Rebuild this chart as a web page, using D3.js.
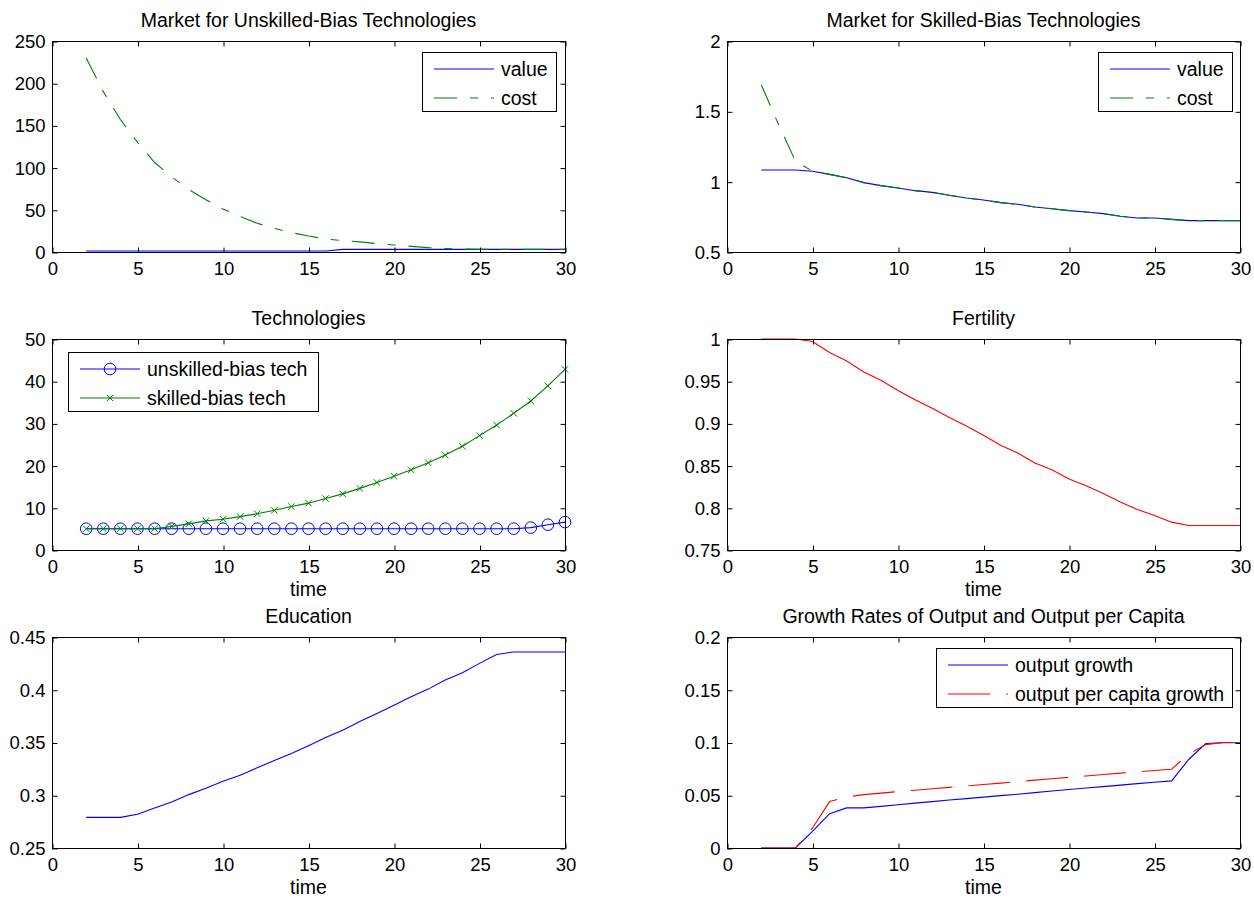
<!DOCTYPE html>
<html>
<head>
<meta charset="utf-8">
<script src="https://cdn.jsdelivr.net/npm/d3@7"></script>
<style>
  html, body { margin: 0; padding: 0; background: #fff; }
  svg { display: block; }
  text { font-family: "Liberation Sans", Arial, Helvetica, sans-serif; fill: #000; }
</style>
</head>
<body>
<svg id="chart" width="1254" height="900"></svg>
<script>
// ---------------- DATA ----------------
const time = [2,3,4,5,6,7,8,9,10,11,12,13,14,15,16,17,18,19,20,21,22,23,24,25,26,27,28,29,30];

const unskilledMarketValue = [1.1,1.1,1.1,1.1,1.1,1.1,1.1,1.1,1.1,1.1,1.1,1.1,1.1,1.1,1.1,3.1,3.1,3.1,3.1,3.1,3.1,3.1,3.1,3.1,3.1,3.1,3.1,3.1,3.1];
const unskilledMarketCost  = [230,190,157,130,106,89,74,62,51,42,34,28,23,19,15.5,13.5,12,10,8.3,6.7,5.2,4.2,3.5,3.2,3.1,3.1,3.1,3.1,3.1];

const skilledMarketValue = [1.083,1.083,1.083,1.074,1.052,1.028,0.993,0.972,0.955,0.936,0.924,0.903,0.884,0.870,0.851,0.839,0.820,0.808,0.794,0.784,0.773,0.754,0.742,0.742,0.732,0.723,0.723,0.723,0.723];
const skilledMarketCost  = [1.69,1.41,1.147,1.074,1.052,1.028,0.993,0.972,0.955,0.936,0.924,0.903,0.884,0.870,0.851,0.839,0.820,0.808,0.794,0.784,0.773,0.754,0.742,0.742,0.732,0.723,0.723,0.723,0.723];

const unskilledTech = [5.05,5.05,5.05,5.05,5.05,5.05,5.05,5.05,5.05,5.05,5.05,5.05,5.05,5.05,5.05,5.05,5.05,5.05,5.05,5.05,5.05,5.05,5.05,5.05,5.05,5.05,5.3,6.0,6.6];
const skilledTech   = [5.05,5.05,5.05,5.05,5.05,5.6,6.2,6.9,7.3,7.9,8.6,9.4,10.3,11.1,12.2,13.3,14.6,16.0,17.5,19.0,20.7,22.5,24.6,27.1,29.6,32.4,35.3,38.9,42.8];

const fertility = [1,1,1,0.997,0.984,0.974,0.961,0.951,0.939,0.928,0.918,0.907,0.897,0.886,0.874,0.865,0.853,0.845,0.834,0.826,0.817,0.807,0.798,0.791,0.783,0.779,0.779,0.779,0.779];

const education = [0.279,0.279,0.279,0.282,0.288,0.2937,0.3006,0.3066,0.3133,0.319,0.326,0.333,0.3396,0.347,0.3547,0.3617,0.370,0.3775,0.3854,0.3934,0.4006,0.4092,0.4161,0.425,0.4335,0.4358,0.4358,0.4358,0.4358];

const outputGrowth    = [0,0,0,0.0158,0.0326,0.038,0.038,0.0395,0.041,0.0425,0.044,0.0455,0.0468,0.0482,0.0496,0.051,0.0525,0.054,0.0554,0.0568,0.0582,0.0596,0.061,0.0623,0.0636,0.0839,0.099,0.0998,0.0998];
const perCapitaGrowth = [0,0,0,0.019,0.044,0.0484,0.0506,0.052,0.0535,0.0548,0.0562,0.0575,0.0589,0.0602,0.0615,0.063,0.0643,0.0656,0.067,0.0683,0.0697,0.071,0.0722,0.0735,0.0747,0.089,0.098,0.1,0.1];

const xTicks = [0,5,10,15,20,25,30];
const xTickLabels = ["0","5","10","15","20","25","30"];

const yTicksUnskilled = [0,50,100,150,200,250];
const yLabelsUnskilled = ["0","50","100","150","200","250"];
const yTicksSkilled = [0.5,1,1.5,2];
const yLabelsSkilled = ["0.5","1","1.5","2"];
const yTicksTech = [0,10,20,30,40,50];
const yLabelsTech = ["0","10","20","30","40","50"];
const yTicksFert = [0.75,0.8,0.85,0.9,0.95,1];
const yLabelsFert = ["0.75","0.8","0.85","0.9","0.95","1"];
const yTicksEdu = [0.25,0.3,0.35,0.4,0.45];
const yLabelsEdu = ["0.25","0.3","0.35","0.4","0.45"];
const yTicksGrowth = [0,0.05,0.1,0.15,0.2];
const yLabelsGrowth = ["0","0.05","0.1","0.15","0.2"];

// ---------------- LAYOUT ----------------
const svg = d3.select("#chart");
svg.append("rect").attr("width",1254).attr("height",900).attr("fill","#fff");
const TICKFONT = 18.5, FONT = 19.5;
const colX = [52, 727], rowY = [41, 339, 637], PW = 513, PH = 211;
const BLUE = "#0000ff", GREEN = "#008000", RED = "#ff0000";
const DASHDOT = "23,13,8,13", DASH = "42,16";

function panel(cfg) {
  const left = colX[cfg.col], top = rowY[cfg.row];
  const x = d3.scaleLinear().domain([0,30]).range([left, left+PW]);
  const y = d3.scaleLinear().domain(cfg.yDomain).range([top+PH, top]);
  const g = svg.append("g");

  // series
  cfg.series.forEach(s => {
    const line = d3.line().x((d,i)=>x(time[i])).y(d=>y(d));
    g.append("path").datum(s.values).attr("d", line)
      .attr("fill","none").attr("stroke", s.color).attr("stroke-width",1.1)
      .attr("stroke-dasharray", s.dash || null);
    if (s.marker === "circle") {
      g.selectAll(null).data(s.values).enter().append("circle")
        .attr("cx",(d,i)=>x(time[i])).attr("cy",d=>y(d)).attr("r",5.8)
        .attr("fill","none").attr("stroke",s.color).attr("stroke-width",1);
    } else if (s.marker === "x") {
      g.selectAll(null).data(s.values).enter().append("path")
        .attr("d",(d,i)=>{const cx=x(time[i]), cy=y(d), r=3.2;
          return `M${cx-r},${cy-r}L${cx+r},${cy+r}M${cx-r},${cy+r}L${cx+r},${cy-r}`;})
        .attr("stroke",s.color).attr("stroke-width",1).attr("fill","none");
    }
  });

  // frame
  const L = Math.round(left)+0.5, R = Math.round(left+PW)+0.5, T = Math.round(top)+0.5, B = Math.round(top+PH)+0.5;
  g.append("rect").attr("x",L).attr("y",T).attr("width",R-L).attr("height",B-T)
    .attr("fill","none").attr("stroke","#000").attr("stroke-width",1);

  const xb = d3.axisBottom(x).tickValues(xTicks).tickFormat((d,i)=>xTickLabels[i]).tickSizeInner(-5).tickSizeOuter(0).tickPadding(9);
  const gx = g.append("g").attr("transform",`translate(0.5,${B})`).call(xb);
  gx.select(".domain").remove();
  gx.selectAll("line").attr("stroke","#000");
  gx.selectAll("text").attr("font-size",TICKFONT).attr("dy",null).attr("y",22).attr("font-family","Liberation Sans, Arial, sans-serif");
  const xt = d3.axisTop(x).tickValues(xTicks).tickFormat("").tickSizeInner(-5).tickSizeOuter(0);
  const gxt = g.append("g").attr("transform",`translate(0.5,${T})`).call(xt);
  gxt.select(".domain").remove(); gxt.selectAll("line").attr("stroke","#000");

  const ya = d3.axisLeft(y).tickValues(cfg.yTicks).tickFormat((d,i)=>cfg.yLabels[i]).tickSizeInner(-5).tickSizeOuter(0).tickPadding(7);
  const gy = g.append("g").attr("transform",`translate(${L},0.5)`).call(ya);
  gy.select(".domain").remove();
  gy.selectAll("line").attr("stroke","#000");
  gy.selectAll("text").attr("font-size",TICKFONT).attr("font-family","Liberation Sans, Arial, sans-serif");
  const yr = d3.axisRight(y).tickValues(cfg.yTicks).tickFormat("").tickSizeInner(-5).tickSizeOuter(0);
  const gyr = g.append("g").attr("transform",`translate(${R},0.5)`).call(yr);
  gyr.select(".domain").remove(); gyr.selectAll("line").attr("stroke","#000");

  g.append("text").attr("x",left+PW/2).attr("y",top-14).attr("text-anchor","middle")
    .attr("font-size",FONT).text(cfg.title);
  if (cfg.xlabel) {
    g.append("text").attr("x",left+PW/2).attr("y",top+PH+46).attr("text-anchor","middle")
      .attr("font-size",FONT).text(cfg.xlabel);
  }

  if (cfg.legend) {
    const lg = cfg.legend;
    const bx = lg.right ? left+PW-lg.inset-lg.width : left+lg.inset;
    const by = top+lg.top;
    const lgG = g.append("g");
    lgG.append("rect").attr("x",Math.round(bx)+0.5).attr("y",Math.round(by)+0.5)
      .attr("width",lg.width).attr("height",59).attr("fill","#fff").attr("stroke","#000").attr("stroke-width",1);
    cfg.series.forEach((s,i) => {
      const yy = Math.round(by + 17 + i*29);
      lgG.append("line").attr("x1",bx+12).attr("x2",bx+72).attr("y1",yy).attr("y2",yy)
        .attr("stroke",s.color).attr("stroke-width",1.2).attr("stroke-dasharray", s.dash || null);
      if (s.marker === "circle") {
        lgG.append("circle").attr("cx",bx+42).attr("cy",yy).attr("r",5.8).attr("fill","none").attr("stroke",s.color);
      } else if (s.marker === "x") {
        const cx=bx+42, r=3.2;
        lgG.append("path").attr("d",`M${cx-r},${yy-r}L${cx+r},${yy+r}M${cx-r},${yy+r}L${cx+r},${yy-r}`).attr("stroke",s.color).attr("fill","none");
      }
      lgG.append("text").attr("x",bx+79).attr("y",yy).attr("dy","0.35em").attr("font-size",FONT).text(s.name);
    });
  }
}

panel({col:0,row:0,title:"Market for Unskilled-Bias Technologies",yDomain:[0,250],yTicks:yTicksUnskilled,yLabels:yLabelsUnskilled,
  series:[{name:"value",values:unskilledMarketValue,color:BLUE},{name:"cost",values:unskilledMarketCost,color:GREEN,dash:DASHDOT}],
  legend:{right:true,inset:9,top:11,width:134}});

panel({col:1,row:0,title:"Market for Skilled-Bias Technologies",yDomain:[0.5,2],yTicks:yTicksSkilled,yLabels:yLabelsSkilled,
  series:[{name:"value",values:skilledMarketValue,color:BLUE},{name:"cost",values:skilledMarketCost,color:GREEN,dash:DASHDOT}],
  legend:{right:true,inset:8,top:11,width:134}});

panel({col:0,row:1,title:"Technologies",xlabel:"time",yDomain:[0,50],yTicks:yTicksTech,yLabels:yLabelsTech,
  series:[{name:"unskilled-bias tech",values:unskilledTech,color:BLUE,marker:"circle"},{name:"skilled-bias tech",values:skilledTech,color:GREEN,marker:"x"}],
  legend:{right:false,inset:16,top:13,width:250}});

panel({col:1,row:1,title:"Fertility",xlabel:"time",yDomain:[0.75,1],yTicks:yTicksFert,yLabels:yLabelsFert,
  series:[{name:"fertility",values:fertility,color:RED}]});

panel({col:0,row:2,title:"Education",xlabel:"time",yDomain:[0.25,0.45],yTicks:yTicksEdu,yLabels:yLabelsEdu,
  series:[{name:"education",values:education,color:BLUE}]});

panel({col:1,row:2,title:"Growth Rates of Output and Output per Capita",xlabel:"time",yDomain:[0,0.2],yTicks:yTicksGrowth,yLabels:yLabelsGrowth,
  series:[{name:"output growth",values:outputGrowth,color:BLUE},{name:"output per capita growth",values:perCapitaGrowth,color:RED,dash:DASH}],
  legend:{right:true,inset:8,top:11,width:296}});
</script>
</body>
</html>
